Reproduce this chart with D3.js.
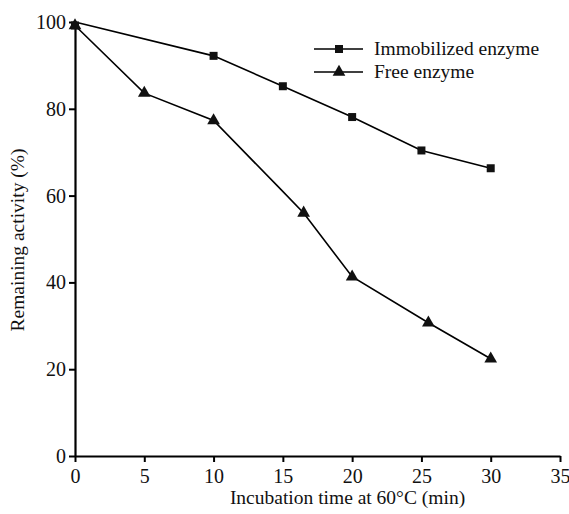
<html>
<head>
<script src="https://d3js.org/d3.v7.min.js"></script>
<style>
body { margin: 0; background: #fff; }
svg text { font-family: "Liberation Serif", "Times New Roman", serif; fill: #111; }
</style>
</head>
<body>
<svg id="chart" width="569" height="514"></svg>
<script>
// data
var immobTime = [0, 10, 15, 20, 25, 30];
var immobActivity = [99.2, 92.2, 85.2, 78.1, 70.4, 66.3];
var immobLineTime = [0, 10, 15, 20, 25, 30];
var immobLineActivity = [100, 92.2, 85.2, 78.1, 70.4, 66.3];

var freeTime = [0, 5, 10, 16.5, 20, 25.5, 30];
var freeActivity = [99.2, 83.6, 77.3, 56, 41.3, 30.7, 22.4];
var freeLineTime = [0, 5, 10, 14.8, 16.5, 20, 25.5, 30];
var freeLineActivity = [99.2, 83.6, 77.3, 61.6, 56, 41.3, 30.7, 22.4];

var xTicks = [0, 5, 10, 15, 20, 25, 30, 35];
var yTicks = [0, 20, 40, 60, 80, 100];
var seriesNames = ["Immobilized enzyme", "Free enzyme"];

var svg = d3.select("#chart");
var padLeft = 75, padRight = 560, padTop = 22, padBottom = 456;

var xScale = d3.scaleLinear().domain([0, 35]).range([padLeft, padRight]);
var yScale = d3.scaleLinear().domain([0, 100]).range([padBottom, padTop]);

var xAxis = d3.axisBottom(xScale).tickValues(xTicks).tickSize(6).tickPadding(7).tickSizeOuter(0);
var yAxis = d3.axisLeft(yScale).tickValues(yTicks).tickSize(6).tickPadding(3).tickSizeOuter(0);

var gx = svg.append("g").attr("transform", "translate(0," + padBottom + ")").call(xAxis);
var gy = svg.append("g").attr("transform", "translate(" + padLeft + ",0)").call(yAxis);

[gx, gy].forEach(function(g){
	g.select(".domain").attr("stroke", "#000").attr("stroke-width", 2.2);
	g.selectAll(".tick line").attr("stroke", "#000").attr("stroke-width", 2);
	g.selectAll(".tick text").attr("font-size", 20).attr("fill", "#111")
	.attr("font-family", "Liberation Serif, serif");
});

// axis titles
svg.append("text")
.attr("x", (padLeft + padRight) / 2 + 30)
.attr("y", 504)
.attr("text-anchor", "middle")
.attr("font-size", 19.5)
.text("Incubation time at 60\u00B0C (min)");

svg.append("text")
.attr("transform", "translate(24,240) rotate(-90)")
.attr("text-anchor", "middle")
.attr("font-size", 19.5)
.text("Remaining activity (%)");

var line = d3.line()
.x(function(d){ return xScale(d[0]); })
.y(function(d){ return yScale(d[1]); });

var freeLine = d3.zip(freeLineTime, freeLineActivity);
var immobLine = d3.zip(immobLineTime, immobLineActivity);

svg.append("path").attr("d", line(freeLine))
.attr("fill", "none").attr("stroke", "#000").attr("stroke-width", 1.6);
svg.append("path").attr("d", line(immobLine))
.attr("fill", "none").attr("stroke", "#000").attr("stroke-width", 1.6);

var tri = d3.symbol().type(d3.symbolTriangle).size(70);
var sq = d3.symbol().type(d3.symbolSquare).size(64);

svg.selectAll("path.free").data(d3.zip(freeTime, freeActivity))
.enter().append("path").attr("class", "free")
.attr("d", tri)
.attr("transform", function(d){ return "translate(" + xScale(d[0]) + "," + yScale(d[1]) + ")"; })
.attr("fill", "#111");

svg.selectAll("path.immob").data(d3.zip(immobTime, immobActivity))
.enter().append("path").attr("class", "immob")
.attr("d", sq)
.attr("transform", function(d){ return "translate(" + xScale(d[0]) + "," + yScale(d[1]) + ")"; })
.attr("fill", "#111");

// legend
var legend = svg.append("g");
seriesNames.forEach(function(name, i){
	var ly = 49 + i * 23;
	legend.append("line")
	.attr("x1", 314).attr("x2", 363).attr("y1", ly).attr("y2", ly)
	.attr("stroke", "#000").attr("stroke-width", 1.6);
	legend.append("path")
	.attr("d", i == 0 ? sq : tri)
	.attr("transform", "translate(339," + ly + ")")
	.attr("fill", "#111");
	legend.append("text")
	.attr("x", 374).attr("y", ly + 6)
	.attr("font-size", 19.5)
	.text(name);
});
</script>
</body>
</html>
